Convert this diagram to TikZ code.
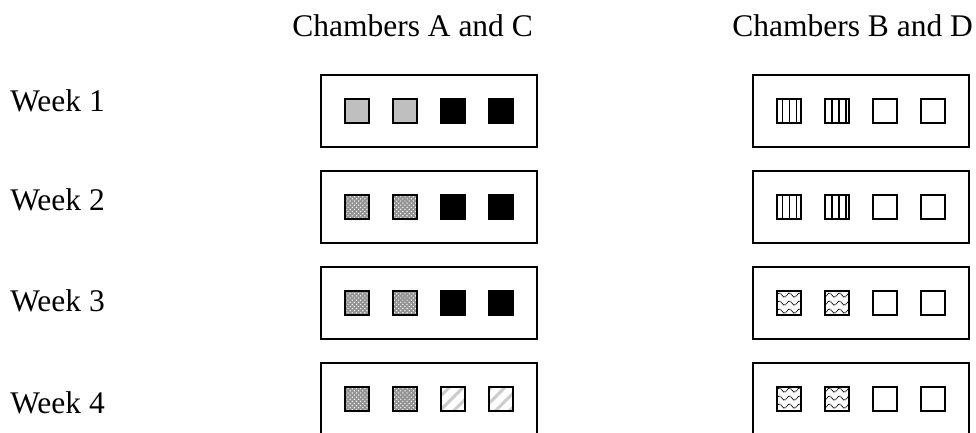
\documentclass[tikz,border=0pt]{standalone}
\usepackage{fontspec}
\setmainfont{Liberation Serif}
\usetikzlibrary{patterns,patterns.meta}

% wavy dotted fill used for chambers B and D
\tikzdeclarepattern{
  name=wavydots,
  type=uncolored,
  bounding box={(0,0) and (7pt,5.6pt)},
  tile size={(7pt,5.6pt)},
  code={
    \draw[line width=0.7pt, dash pattern=on 0.7pt off 0.5pt]
      (0,2.8pt) sin (1.75pt,4.3pt) cos (3.5pt,2.8pt) sin (5.25pt,1.3pt) cos (7pt,2.8pt);
  }
}

\begin{document}
\begin{tikzpicture}[
    x=0.025cm, y=-0.025cm,
    % Text (headings and week labels)
    label/.style={font=\fontsize{22.4}{26}\selectfont, inner sep=0pt, anchor=base west},
    % Chamber frames and sample squares
    chamber/.style={draw, line width=1.4pt, minimum width=5.4cm, minimum height=1.8cm, inner sep=0pt},
    cell/.style={draw, line width=1.2pt, minimum size=0.6cm, inner sep=0pt},
    greycell/.style={cell, fill=black!25},
    blackcell/.style={cell, fill=black},
    dotcell/.style={cell, preaction={fill=gray!85}, pattern=crosshatch dots, pattern color=white},
    stripecell/.style={cell, pattern={Lines[angle=45, distance=7pt, line width=2.2pt]}, pattern color=gray!40},
    barcell/.style={cell, pattern={Lines[angle=90, distance=5pt, line width=1.2pt, xshift=1.5pt]}, pattern color=black},
    wavecell/.style={cell, pattern=wavydots, pattern color=black},
    emptycell/.style={cell, fill=white}
]

\useasboundingbox (0,0) rectangle (976,433);
\clip (0,0) rectangle (976,433);

% ---------------------------------------------------------
% 1. HEADINGS AND WEEK LABELS
% ---------------------------------------------------------
\node[label] (hdrac) at (292, 37) {Chambers A and C};
\node[label] (hdrbd) at (732, 37) {Chambers B and D};

\node[label] (wk1) at (10, 112) {Week 1};
\node[label] (wk2) at (10, 210) {Week 2};
\node[label] (wk3) at (10, 311) {Week 3};
\node[label] (wk4) at (10, 413) {Week 4};

% ---------------------------------------------------------
% 2. CHAMBER FRAMES
% ---------------------------------------------------------
\node[chamber] (ac1) at (429, 111) {};
\node[chamber] (ac2) at (429, 207) {};
\node[chamber] (ac3) at (429, 303) {};
\node[chamber] (ac4) at (429, 399) {};

\node[chamber] (bd1) at (861, 111) {};
\node[chamber] (bd2) at (861, 207) {};
\node[chamber] (bd3) at (861, 303) {};
\node[chamber] (bd4) at (861, 399) {};

% ---------------------------------------------------------
% 3. SAMPLE SQUARES
% ---------------------------------------------------------
% --- Chambers A and C ---
\foreach \x/\n in {357/1, 405/2} \node[greycell] (ac1s\n) at (\x, 111) {};
\foreach \x/\n in {453/3, 501/4} \node[blackcell] (ac1s\n) at (\x, 111) {};

\foreach \x/\n in {357/1, 405/2} \node[dotcell] (ac2s\n) at (\x, 207) {};
\foreach \x/\n in {453/3, 501/4} \node[blackcell] (ac2s\n) at (\x, 207) {};

\foreach \x/\n in {357/1, 405/2} \node[dotcell] (ac3s\n) at (\x, 303) {};
\foreach \x/\n in {453/3, 501/4} \node[blackcell] (ac3s\n) at (\x, 303) {};

\foreach \x/\n in {357/1, 405/2} \node[dotcell] (ac4s\n) at (\x, 399) {};
\foreach \x/\n in {453/3, 501/4} \node[stripecell] (ac4s\n) at (\x, 399) {};

% --- Chambers B and D ---
\foreach \x/\n in {789/1, 837/2} \node[barcell] (bd1s\n) at (\x, 111) {};
\foreach \x/\n in {885/3, 933/4} \node[emptycell] (bd1s\n) at (\x, 111) {};

\foreach \x/\n in {789/1, 837/2} \node[barcell] (bd2s\n) at (\x, 207) {};
\foreach \x/\n in {885/3, 933/4} \node[emptycell] (bd2s\n) at (\x, 207) {};

\foreach \x/\n in {789/1, 837/2} \node[wavecell] (bd3s\n) at (\x, 303) {};
\foreach \x/\n in {885/3, 933/4} \node[emptycell] (bd3s\n) at (\x, 303) {};

\foreach \x/\n in {789/1, 837/2} \node[wavecell] (bd4s\n) at (\x, 399) {};
\foreach \x/\n in {885/3, 933/4} \node[emptycell] (bd4s\n) at (\x, 399) {};

\end{tikzpicture}
\end{document}
